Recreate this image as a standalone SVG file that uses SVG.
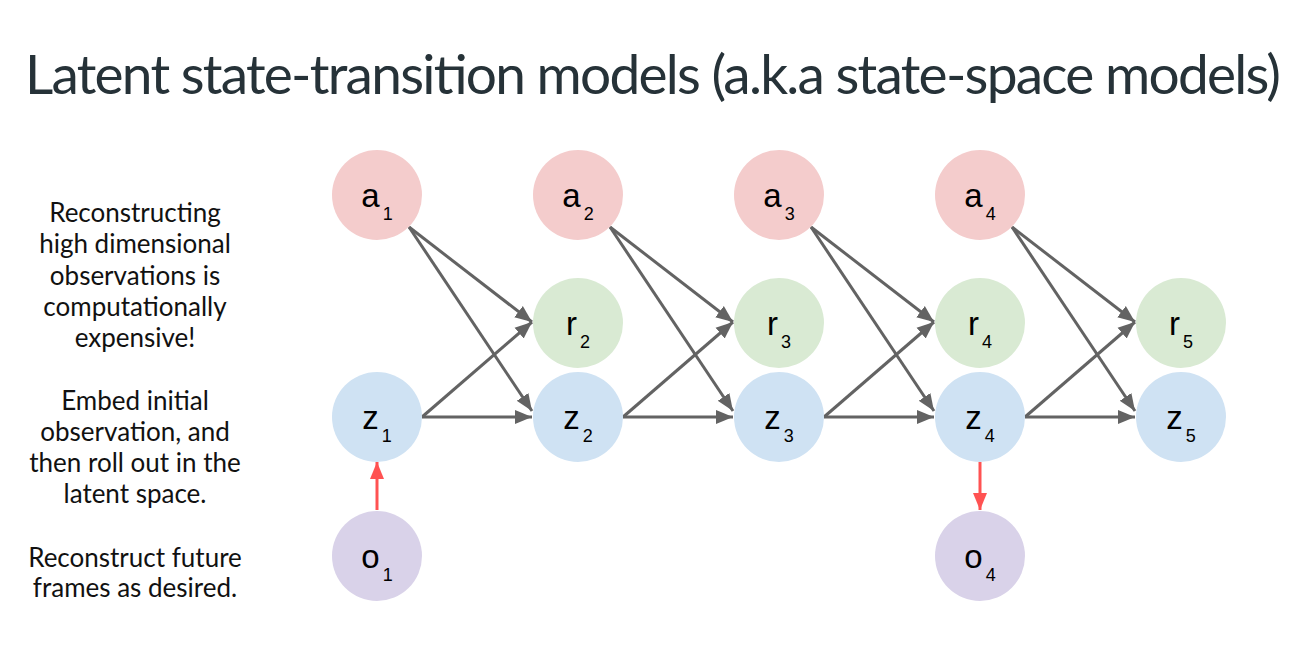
<svg xmlns="http://www.w3.org/2000/svg" width="1309" height="647" viewBox="0 0 1309 647">
<style>
.title{font-family:Lato,"Open Sans","Liberation Sans",sans-serif;font-size:55px;fill:#263238}
.side{font-family:Lato,"Open Sans","Liberation Sans",sans-serif;font-size:26px;fill:#111;text-anchor:middle}
.lbl{font-family:"Liberation Sans",Arial,sans-serif;font-size:33px;fill:#000;text-anchor:middle}
.sub{font-size:18px}
.a{fill:#f4cccc}.r{fill:#d9ead3}.z{fill:#cfe2f3}.o{fill:#d9d2e9}
.e{stroke:#636363;stroke-width:3;fill:none;marker-end:url(#ag)}
.er{stroke:#ff5252;stroke-width:3;fill:none;marker-end:url(#ar)}
</style>
<defs>
<marker id="ag" markerUnits="userSpaceOnUse" markerWidth="18" markerHeight="16" refX="17" refY="8" orient="auto" viewBox="0 0 18 16"><path d="M0,1 L17,8 L0,15 z" fill="#636363"/></marker>
<marker id="ar" markerUnits="userSpaceOnUse" markerWidth="18" markerHeight="16" refX="17" refY="8" orient="auto" viewBox="0 0 18 16"><path d="M0,1 L17,8 L0,15 z" fill="#ff5252"/></marker>
</defs>
<rect width="1309" height="647" fill="#fff"/>
<text class="title" x="653" y="94" text-anchor="middle" textLength="1256" lengthAdjust="spacing">Latent state-transition models (a.k.a state-space models)</text>
<g id="notes">
<text class="side" x="135" y="222">Reconstructing</text>
<text class="side" x="135" y="253">high dimensional</text>
<text class="side" x="135" y="285">observations is</text>
<text class="side" x="135" y="316">computationally</text>
<text class="side" x="135" y="347">expensive!</text>
<text class="side" x="135" y="410">Embed initial</text>
<text class="side" x="135" y="441">observation, and</text>
<text class="side" x="135" y="472">then roll out in the</text>
<text class="side" x="135" y="503">latent space.</text>
<text class="side" x="135" y="567">Reconstruct future</text>
<text class="side" x="135" y="597">frames as desired.</text>
</g>
<g id="connectors">
<path class="e" d="M409,227 L532,322"/><path class="e" d="M409,227 L532,411"/>
<path class="e" d="M422,417 L532,322"/><path class="e" d="M422,417 L532,417"/>
<path class="e" d="M610,227 L733,322"/><path class="e" d="M610,227 L733,411"/>
<path class="e" d="M623,417 L733,322"/><path class="e" d="M623,417 L733,417"/>
<path class="e" d="M811,227 L934,322"/><path class="e" d="M811,227 L934,411"/>
<path class="e" d="M824,417 L934,322"/><path class="e" d="M824,417 L934,417"/>
<path class="e" d="M1012,227 L1135,322"/><path class="e" d="M1012,227 L1135,411"/>
<path class="e" d="M1025,417 L1135,322"/><path class="e" d="M1025,417 L1135,417"/>
<path class="er" d="M377,510 L377,462"/>
<path class="er" d="M980,462 L980,510"/>
</g>
<g id="a1"><circle class="a" cx="377" cy="195" r="45"/><text class="lbl" x="377" y="207">a<tspan class="sub" dx="3" dy="13">1</tspan></text></g>
<g id="a2"><circle class="a" cx="578" cy="195" r="45"/><text class="lbl" x="578" y="207">a<tspan class="sub" dx="3" dy="13">2</tspan></text></g>
<g id="a3"><circle class="a" cx="779" cy="195" r="45"/><text class="lbl" x="779" y="207">a<tspan class="sub" dx="3" dy="13">3</tspan></text></g>
<g id="a4"><circle class="a" cx="980" cy="195" r="45"/><text class="lbl" x="980" y="207">a<tspan class="sub" dx="3" dy="13">4</tspan></text></g>
<g id="r2"><circle class="r" cx="578" cy="323" r="45"/><text class="lbl" x="578" y="335">r<tspan class="sub" dx="3" dy="13">2</tspan></text></g>
<g id="r3"><circle class="r" cx="779" cy="323" r="45"/><text class="lbl" x="779" y="335">r<tspan class="sub" dx="3" dy="13">3</tspan></text></g>
<g id="r4"><circle class="r" cx="980" cy="323" r="45"/><text class="lbl" x="980" y="335">r<tspan class="sub" dx="3" dy="13">4</tspan></text></g>
<g id="r5"><circle class="r" cx="1181" cy="323" r="45"/><text class="lbl" x="1181" y="335">r<tspan class="sub" dx="3" dy="13">5</tspan></text></g>
<g id="z1"><circle class="z" cx="377" cy="417" r="45"/><text class="lbl" x="377" y="429">z<tspan class="sub" dx="3" dy="13">1</tspan></text></g>
<g id="z2"><circle class="z" cx="578" cy="417" r="45"/><text class="lbl" x="578" y="429">z<tspan class="sub" dx="3" dy="13">2</tspan></text></g>
<g id="z3"><circle class="z" cx="779" cy="417" r="45"/><text class="lbl" x="779" y="429">z<tspan class="sub" dx="3" dy="13">3</tspan></text></g>
<g id="z4"><circle class="z" cx="980" cy="417" r="45"/><text class="lbl" x="980" y="429">z<tspan class="sub" dx="3" dy="13">4</tspan></text></g>
<g id="z5"><circle class="z" cx="1181" cy="417" r="45"/><text class="lbl" x="1181" y="429">z<tspan class="sub" dx="3" dy="13">5</tspan></text></g>
<g id="o1"><circle class="o" cx="377" cy="556" r="45"/><text class="lbl" x="377" y="568">o<tspan class="sub" dx="3" dy="13">1</tspan></text></g>
<g id="o4"><circle class="o" cx="980" cy="556" r="45"/><text class="lbl" x="980" y="568">o<tspan class="sub" dx="3" dy="13">4</tspan></text></g>
</svg>
